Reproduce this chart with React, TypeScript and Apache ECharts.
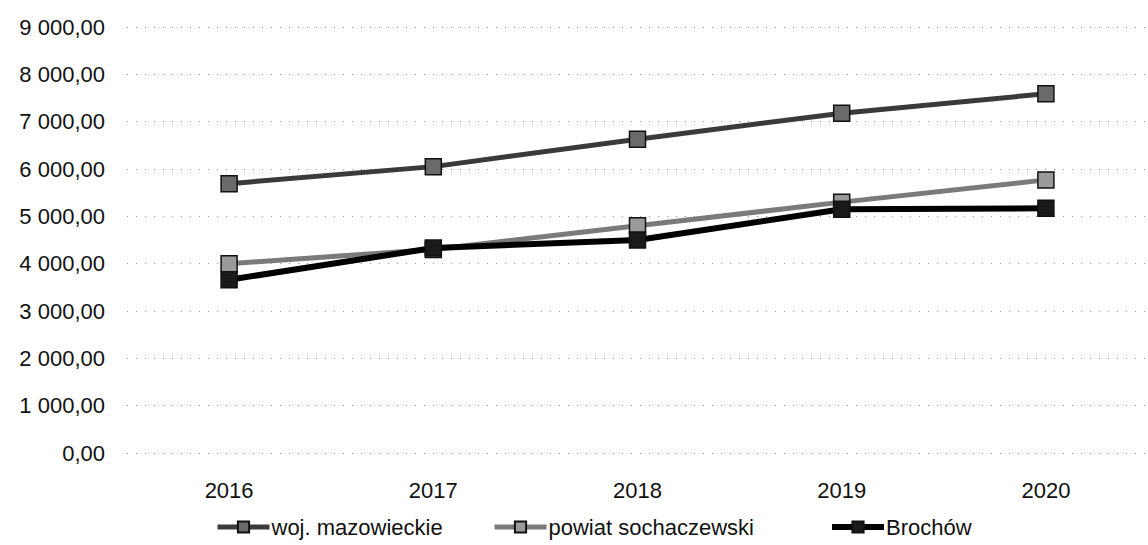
import React, { useEffect, useRef } from "react";
import * as echarts from "echarts";

const years = ["2016", "2017", "2018", "2019", "2020"];
const mazowieckie = [5690, 6050, 6630, 7180, 7590];
const sochaczewski = [4000, 4300, 4800, 5300, 5770];
const brochow = [3660, 4330, 4500, 5150, 5170];
const seriesNames = ["woj. mazowieckie", "powiat sochaczewski", "Brochów"];
const yMin = 0;
const yMax = 9000;
const yInterval = 1000;

const FONT = "Liberation Sans, Arial, sans-serif";

function fmt(v: number): string {
  const s = Math.round(v).toString().replace(/\B(?=(\d{3})+(?!\d))/g, " ");
  return s + ",00";
}

export default function App() {
  const ref = useRef<HTMLDivElement>(null);
  useEffect(() => {
    if (!ref.current) return;
    const chart = echarts.init(ref.current, undefined, { renderer: "svg" });
    const mk = (name: string, data: number[], color: string, fill: string, width: number) => ({
      name,
      type: "line",
      data,
      symbol: "rect",
      symbolSize: 16,
      lineStyle: { color, width },
      itemStyle: { color: fill, borderColor: "#111", borderWidth: 1.5 },
      z: 2,
    });
    const legendText = { fontSize: 22, fontFamily: FONT, color: "#111" };
    const lg = (name: string, left: number, w: number) => ({
      data: [name],
      left,
      top: 511,
      itemWidth: 52,
      itemHeight: 14,
      itemGap: 0,
      textStyle: { ...legendText, padding: [0, 0, 0, -3] },
      lineStyle: { width: w },
    });
    chart.setOption({
      animation: false,
      backgroundColor: "#ffffff",
      grid: { left: 127, top: 27, width: 1035, height: 426 },
      xAxis: {
        type: "category",
        data: years,
        boundaryGap: true,
        axisLine: { show: false },
        axisTick: { show: false },
        axisLabel: { fontSize: 22, fontFamily: FONT, color: "#111", margin: 26 },
        splitLine: { show: false },
      },
      yAxis: {
        type: "value",
        min: yMin,
        max: yMax,
        interval: yInterval,
        axisLine: { show: false },
        axisTick: { show: false },
        axisLabel: { fontSize: 22, fontFamily: FONT, color: "#111", margin: 22, formatter: fmt },
        splitLine: { show: true, lineStyle: { color: "#999", width: 1, type: [1, 8] } },
      },
      legend: [
        lg(seriesNames[0], 210, 5),
        lg(seriesNames[1], 487, 5),
        lg(seriesNames[2], 824, 6),
      ],
      series: [
        mk(seriesNames[0], mazowieckie, "#3a3a3a", "#6a6a6a", 5),
        mk(seriesNames[1], sochaczewski, "#7a7a7a", "#9a9a9a", 5),
        mk(seriesNames[2], brochow, "#000000", "#1a1a1a", 6),
      ],
    });
    return () => chart.dispose();
  }, []);
  return (
    <div
      ref={ref}
      style={{ position: "absolute", left: 0, top: 0, width: 1148, height: 545, background: "#fff" }}
    />
  );
}
